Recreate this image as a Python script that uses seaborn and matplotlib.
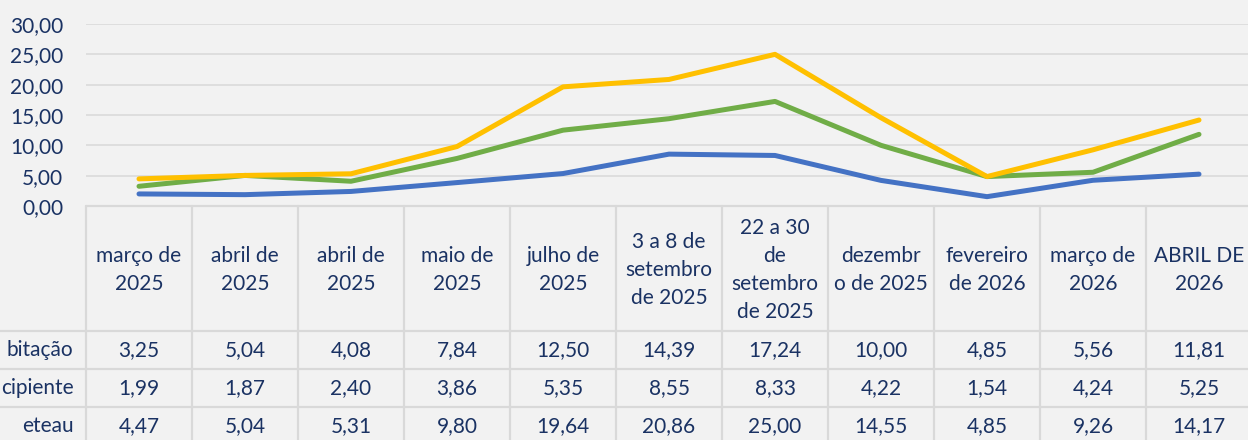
import numpy as np
import pandas as pd
import matplotlib.pyplot as plt
import seaborn as sns

# dados do gráfico
categorias = ['março de\n2025', 'abril de\n2025', 'abril de\n2025', 'maio de\n2025',
              'julho de\n2025', '3 a 8 de\nsetembro\nde 2025', '22 a 30\nde\nsetembro\nde 2025',
              'dezembr\no de 2025', 'fevereiro\nde 2026', 'março de\n2026', 'ABRIL DE\n2026']
series_nomes = ['bitação', 'cipiente', 'eteau']
habitacao = [3.25, 5.04, 4.08, 7.84, 12.50, 14.39, 17.24, 10.00, 4.85, 5.56, 11.81]
incipiente = [1.99, 1.87, 2.40, 3.86, 5.35, 8.55, 8.33, 4.22, 1.54, 4.24, 5.25]
eteau = [4.47, 5.04, 5.31, 9.80, 19.64, 20.86, 25.00, 14.55, 4.85, 9.26, 14.17]
y_ticks = [0, 5, 10, 15, 20, 25, 30]

cores = ['#70AD47', '#4472C4', '#FFC000']
fundo = '#F2F2F2'
grade = '#D9D9D9'
texto = '#1A3263'
fs = 15

sns.set_theme(style='white')
plt.rcParams['font.family'] = ['Lato', 'DejaVu Sans']

n = len(categorias)
df = pd.DataFrame({
    'pos': list(range(n)) * 3,
    'valor': habitacao + incipiente + eteau,
    'serie': [series_nomes[0]] * n + [series_nomes[1]] * n + [series_nomes[2]] * n,
})

W, H = 1248, 440
fig = plt.figure(figsize=(W / 100, H / 100), dpi=100)
fig.patch.set_facecolor(fundo)

x0, col_w = 86, 106
y_top, y_zero = 24, 206
ax = fig.add_axes([x0 / W, (H - y_zero) / H, n * col_w / W, (y_zero - y_top) / H])
ax.set_facecolor(fundo)

sns.lineplot(data=df, x='pos', y='valor', hue='serie', hue_order=series_nomes,
             palette=cores, linewidth=3.6, legend=False, ax=ax,
             solid_capstyle='round', zorder=3)

ax.set_xlim(-0.5, n - 0.5)
ax.set_ylim(0, 30)
ax.set_yticks(y_ticks)
ax.set_yticklabels([f'{v:.2f}'.replace('.', ',') for v in y_ticks])
ax.tick_params(axis='y', length=0, pad=16.5, labelsize=fs, labelcolor=texto)
ax.set_xticks([])
ax.set_xlabel('')
ax.set_ylabel('')
for s in ax.spines.values():
    s.set_visible(False)
for v in y_ticks[1:]:
    ax.axhline(v, color=grade, lw=1.1, zorder=1)

# tabela de dados
tb = fig.add_axes([x0 / W, 0, n * col_w / W, (H - y_zero) / H])
tb.set_facecolor(fundo)
tb.set_xlim(-0.5, n - 0.5)
tb.set_ylim(H, y_zero)
tb.axis('off')

linhas = [206, 331, 369, 407, 445]
x_esq = -0.5 - x0 / col_w
tb.plot([-0.5, n - 0.5], [linhas[0], linhas[0]], color=grade, lw=1.6, clip_on=False)
for yl in linhas[1:4]:
    tb.plot([x_esq, n - 0.5], [yl, yl], color=grade, lw=1.6, clip_on=False)
for i in range(n + 1):
    tb.plot([i - 0.5, i - 0.5], [linhas[0], linhas[-1]], color=grade, lw=1.6, clip_on=False)

for i, cat in enumerate(categorias):
    tb.text(i, (linhas[0] + linhas[1]) / 2 + 2, cat, ha='center', va='center',
            fontsize=fs, color=texto, linespacing=1.5)

for r, (nome, vals) in enumerate(zip(series_nomes, [habitacao, incipiente, eteau])):
    yc = (linhas[r + 1] + linhas[r + 2]) / 2
    tb.text(-0.62, yc, nome, ha='right', va='center', fontsize=fs, color=texto, clip_on=False)
    for i, v in enumerate(vals):
        tb.text(i, yc, f'{v:.2f}'.replace('.', ','), ha='center', va='center',
                fontsize=fs, color=texto)

fig.savefig('out.png', dpi=100, facecolor=fundo)
